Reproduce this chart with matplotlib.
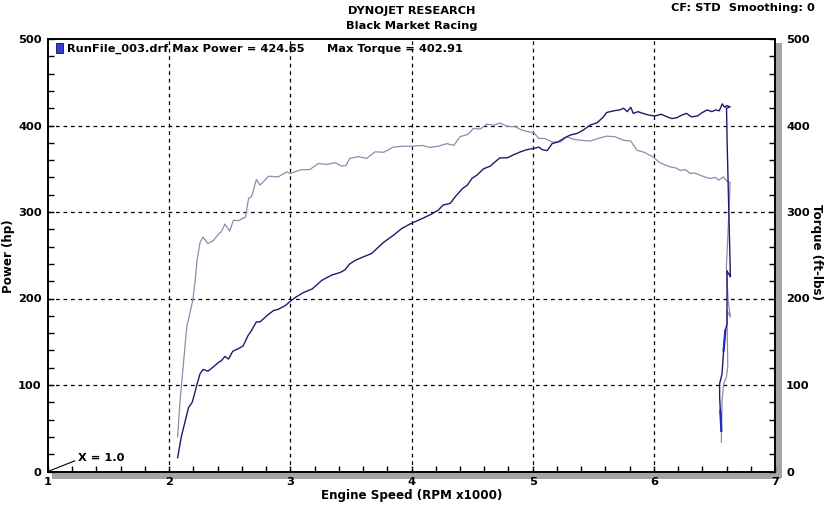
import matplotlib
matplotlib.use("Agg")
import matplotlib.pyplot as plt
from matplotlib.patches import Rectangle
from matplotlib.ticker import MultipleLocator

# ---------------- data ----------------
power_rpm = [2.07, 2.10, 2.13, 2.16, 2.19, 2.21, 2.23, 2.255, 2.28, 2.32, 2.365, 2.41, 2.43,
             2.46, 2.49, 2.525, 2.57, 2.61, 2.65, 2.675, 2.72, 2.75, 2.81, 2.86, 2.90, 2.96,
             3.01, 3.05, 3.11, 3.18, 3.26, 3.34, 3.41, 3.45, 3.49, 3.535, 3.60, 3.67, 3.77,
             3.85, 3.92, 4.00, 4.09, 4.17, 4.22, 4.26, 4.32, 4.36, 4.42, 4.46, 4.50, 4.54,
             4.595, 4.65, 4.69, 4.73, 4.79, 4.84, 4.90, 4.95, 5.01, 5.05, 5.08, 5.12, 5.16,
             5.21, 5.255, 5.31, 5.37, 5.42, 5.475, 5.53, 5.585, 5.61, 5.67, 5.72, 5.75, 5.78,
             5.81, 5.83, 5.87, 5.91, 5.96, 6.01, 6.06, 6.11, 6.15, 6.19, 6.23, 6.27, 6.31,
             6.36, 6.40, 6.44, 6.48, 6.51, 6.54, 6.565, 6.585, 6.60, 6.63,
             6.60, 6.605, 6.618, 6.632, 6.604, 6.604, 6.59, 6.576, 6.563, 6.543, 6.543,
             6.549, 6.557]
power_hp = [16, 40, 57, 74, 80, 90, 101, 113, 118, 116, 121, 126.5, 128,
            133, 130, 139, 142, 145, 157, 162, 173, 173, 180.5, 186, 187.5, 192,
            198, 202, 207, 211, 221, 227, 230, 233, 240, 244, 248, 252, 265,
            273, 281, 287, 292.5, 298, 302, 308, 310, 317.5, 327, 331, 339, 342.6,
            350, 353, 358, 362.6, 362.6, 366, 369.6, 372, 373.5, 375, 372, 371, 379,
            381, 385, 389, 391, 395, 400.5, 403, 410, 415, 417, 418, 420, 416,
            421, 414, 416, 414, 412, 411, 413, 410, 408, 409, 412, 414, 410,
            411, 415, 418, 416, 418, 417, 425, 421, 423, 421.6,
            420, 380, 306, 225, 232, 171, 163, 140, 113, 101.5, 86,
            70, 47]

torque_rpm = [2.07, 2.09, 2.12, 2.145, 2.17, 2.195, 2.215, 2.23, 2.255, 2.28, 2.32, 2.365,
              2.41, 2.43, 2.46, 2.50, 2.53, 2.57, 2.63, 2.655, 2.68, 2.72, 2.75, 2.82, 2.90,
              2.97, 3.00, 3.09, 3.16, 3.23, 3.30, 3.37, 3.425, 3.46, 3.49, 3.56, 3.63, 3.70,
              3.77, 3.85, 3.93, 4.00, 4.09, 4.15, 4.22, 4.29, 4.35, 4.40, 4.47, 4.51, 4.57,
              4.62, 4.68, 4.73, 4.79, 4.86, 4.91, 4.97, 5.01, 5.05, 5.10, 5.16, 5.23, 5.28,
              5.34, 5.39, 5.475, 5.54, 5.61, 5.68, 5.75, 5.81, 5.86, 5.92, 5.99, 6.05, 6.10,
              6.14, 6.18, 6.22, 6.26, 6.30, 6.34, 6.38, 6.43, 6.47, 6.51, 6.535, 6.576,
              6.60, 6.63,
              6.599, 6.613, 6.632, 6.604, 6.61, 6.599, 6.576, 6.563, 6.557]
torque_ftlb = [40, 82, 128, 167, 182.5, 198, 221, 244, 265, 271, 263.5, 267,
               275, 277, 286, 278, 290.5, 290, 294, 315.6, 318, 337.6, 331, 341.4, 340.6,
               346.4, 344.5, 349, 349, 356, 355, 357, 353, 354, 362, 364, 362, 369.6,
               369, 375, 376, 376, 377, 374.6, 376, 379, 377, 387, 390, 396.6, 396,
               401.6, 400.5, 402.9, 399, 398.5, 394.7, 392.7, 391.6, 385, 385, 381, 381, 387,
               384, 383, 382, 385, 387.7, 387, 383, 382, 371.5, 369, 364, 357, 354,
               352, 351, 348, 349, 344.6, 345, 342.6, 340, 338.8, 340, 336.8, 340.6,
               336, 333.7,
               236, 198, 178.6, 186, 121, 109, 101.5, 82, 34]

x_ticks = [1, 2, 3, 4, 5, 6, 7]
y_ticks = [0, 100, 200, 300, 400, 500]

title_lines = ["DYNOJET RESEARCH", "Black Market Racing"]
corner_text = "CF: STD  Smoothing: 0"
legend_run = "RunFile_003.drf Max Power = 424.65"
legend_torque = "Max Torque = 402.91"
x_label = "Engine Speed (RPM x1000)"
left_label = "Power (hp)"
right_label = "Torque (ft-lbs)"

# ---------------- figure ----------------
POWER_C = "#1c1c6c"
TORQUE_C = "#8c8cae"
FONT = "DejaVu Sans"
FS = 8.2
plt.rcParams["font.family"] = [FONT]

fig = plt.figure(figsize=(8.24, 5.05), dpi=100)
L, R, B, T = 48 / 824, 775 / 824, 1 - 471.5 / 505, 1 - 39 / 505
ax = fig.add_axes([L, B, R - L, T - B])
ax2 = ax.twinx()

ax.set_xlim(1, 7)
ax.set_ylim(0, 500)
ax2.set_ylim(0, 500)

ax.plot(torque_rpm, torque_ftlb, color=TORQUE_C, lw=0.9, zorder=3)
ax.plot(power_rpm, power_hp, color=POWER_C, lw=1.0, zorder=4)
# brighter overlapping segments in the fall-off
ax.plot(power_rpm[-7:-5], power_hp[-7:-5], color="#2828c8", lw=1.6, zorder=5)
ax.plot(power_rpm[-2:], power_hp[-2:], color="#2828c8", lw=1.6, zorder=5)

# grid
for xv in x_ticks[1:-1]:
    ax.axvline(xv, color="black", lw=0.9, ls=(0, (3, 3)), zorder=2)
for yv in y_ticks[1:-1]:
    ax.axhline(yv, color="black", lw=0.9, ls=(0, (3, 3)), zorder=2)

tick_font = dict(fontsize=FS, fontweight="bold", family=FONT)
ax.set_xticks(x_ticks)
ax.set_xticklabels([str(v) for v in x_ticks], **tick_font)
ax.set_yticks(y_ticks)
ax.set_yticklabels([str(v) for v in y_ticks], **tick_font)
ax2.set_yticks(y_ticks)
ax2.set_yticklabels([str(v) for v in y_ticks], **tick_font)

ax.xaxis.set_minor_locator(MultipleLocator(0.2))
ax.yaxis.set_minor_locator(MultipleLocator(20))
ax2.yaxis.set_minor_locator(MultipleLocator(20))
ax.tick_params(axis="both", which="both", direction="in", length=4, width=1, color="black")
ax.tick_params(axis="x", which="major", pad=4, top=False)
ax.tick_params(axis="y", which="major", pad=4.5)
ax2.tick_params(axis="y", which="both", direction="in", length=4, width=1, pad=8)

for a in (ax, ax2):
    for s in a.spines.values():
        s.set_linewidth(1.2)
        s.set_color("black")

# axis titles
fig.text(412 / 824, 1 - 496 / 505, x_label, ha="center", va="center",
         fontsize=8.6, fontweight="bold")
fig.text(9 / 824, 1 - 256 / 505, left_label, ha="center", va="center",
         rotation=90, fontsize=8.6, fontweight="bold")
fig.text(816 / 824, 1 - 252 / 505, right_label, ha="center", va="center",
         rotation=-90, fontsize=8.6, fontweight="bold")

# shadow bands
pw = 6 / 727
ph = 6 / 432
ax.add_patch(Rectangle((1.0 + 1 / 727, -ph), pw, 1.0 - 0.01 + ph, transform=ax.transAxes,
                       facecolor="#a4a4a4", edgecolor="none", clip_on=False, zorder=1))
ax.add_patch(Rectangle((0.006, -ph - 1 / 432), 1.0 + pw - 0.006, ph, transform=ax.transAxes,
                       facecolor="#a4a4a4", edgecolor="none", clip_on=False, zorder=1))

# titles
fig.text(0.5, 1 - 11 / 505, title_lines[0], ha="center", va="center",
         fontsize=FS, fontweight="bold")
fig.text(0.5, 1 - 26 / 505, title_lines[1], ha="center", va="center",
         fontsize=FS, fontweight="bold")
fig.text(1 - 9 / 824, 1 - 8 / 505, corner_text, ha="right", va="center",
         fontsize=FS, fontweight="bold")

# legend-like header
ax.add_patch(Rectangle((8 / 727, 1 - 14 / 432), 7 / 727, 10 / 432, transform=ax.transAxes,
                       facecolor="#3a3ad0", edgecolor="#101060", lw=0.6, zorder=6))
ax.text(19 / 727, 1 - 10 / 432, legend_run, transform=ax.transAxes, ha="left",
        va="center", fontsize=FS, fontweight="bold", zorder=6)
ax.text(279 / 727, 1 - 10 / 432, legend_torque, transform=ax.transAxes, ha="left",
        va="center", fontsize=FS, fontweight="bold", zorder=6)

# X = 1.0 annotation
ax.annotate("X = 1.0", xy=(1.0, 0), xytext=(1.245, 16), fontsize=FS, fontweight="bold",
            va="center", ha="left",
            arrowprops=dict(arrowstyle="-", color="black", lw=0.8, shrinkA=0, shrinkB=0,
                            relpos=(0, 0.3)))

fig.savefig("out.png", dpi=100)
